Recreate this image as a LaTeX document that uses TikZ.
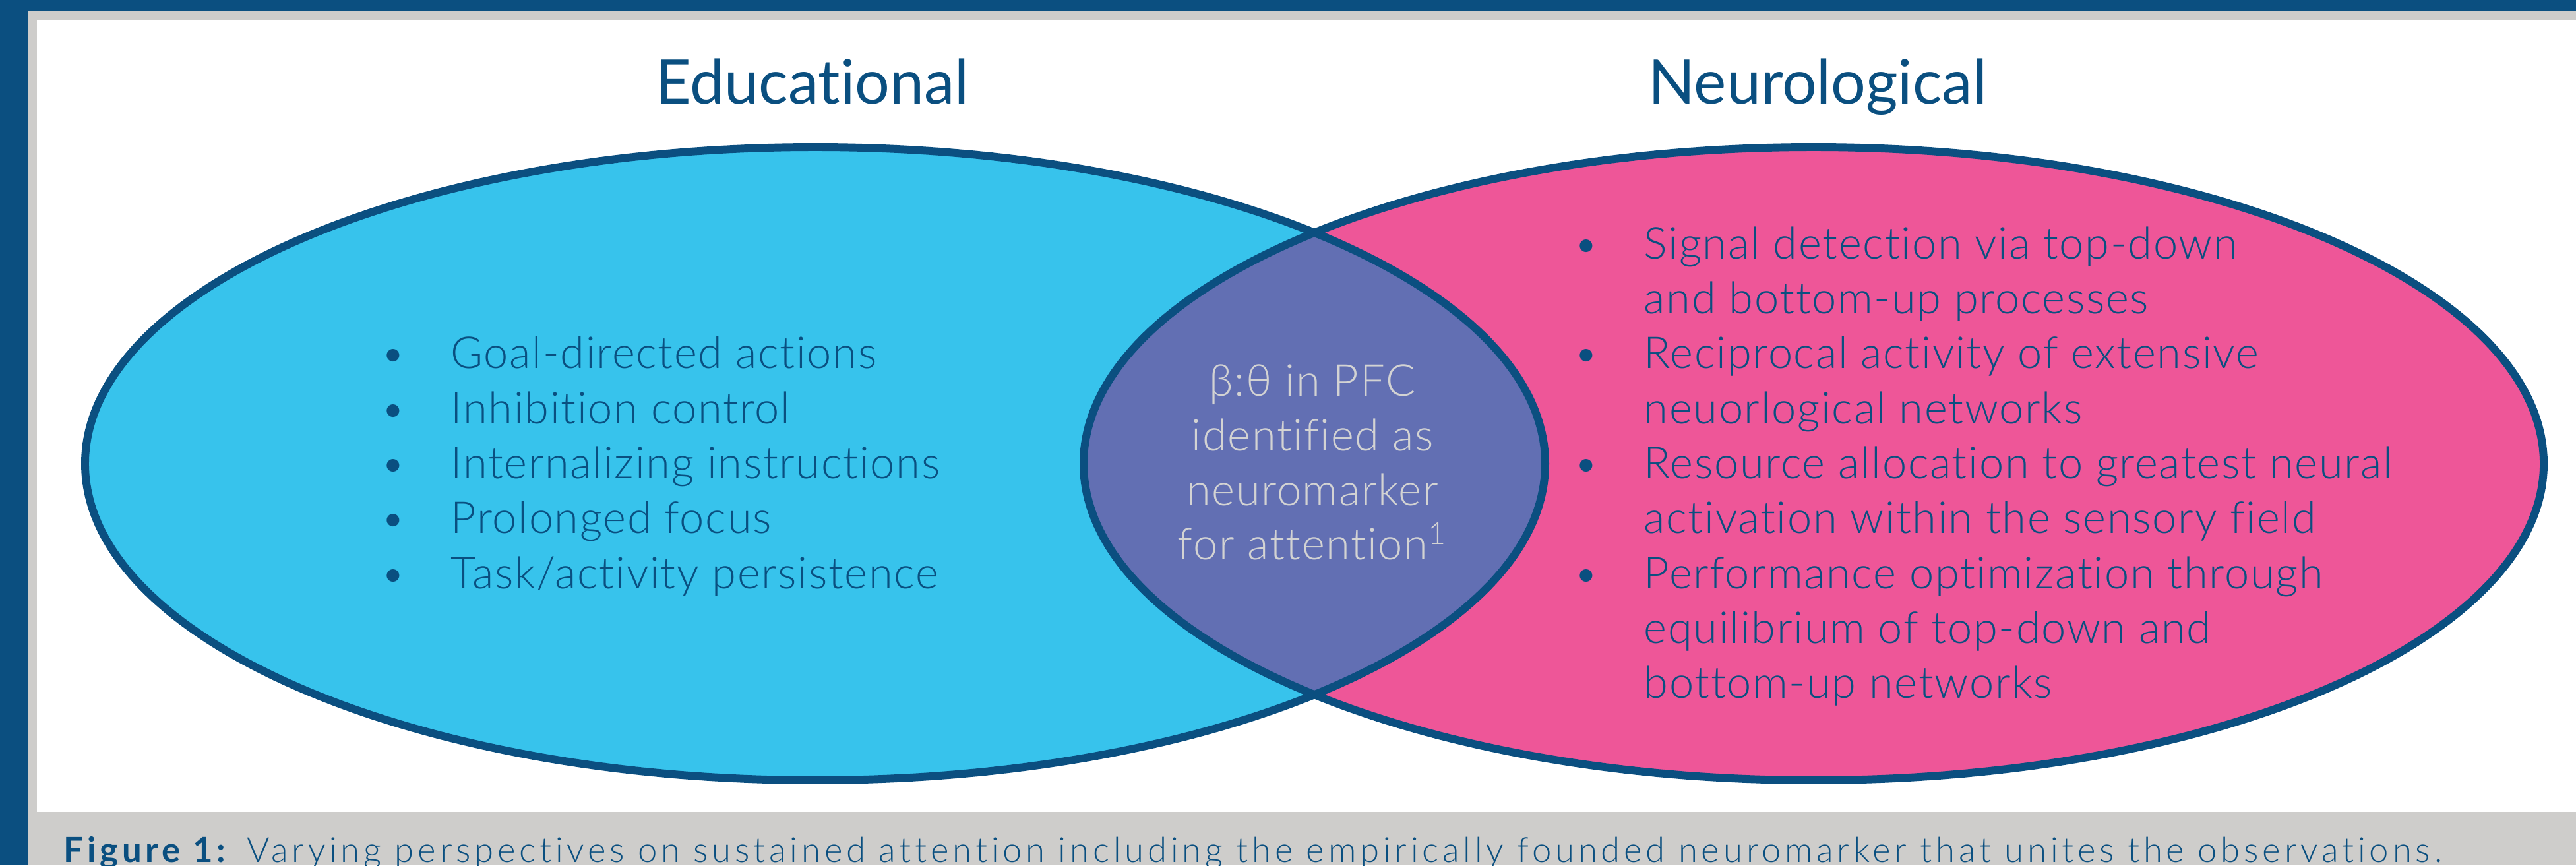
\documentclass[tikz,border=0pt]{standalone}
\usepackage{fontspec}
\setmainfont{Lato Light}[Ligatures=NoCommon,BoldFont=Lato Bold]
\newfontfamily\headfont{Lato}[Ligatures=NoCommon]
\newfontfamily\bodyfont{Lato Light}[Ligatures=NoCommon,LetterSpace=2.5]
\newfontfamily\capfont{Lato Light}[Ligatures=NoCommon,BoldFont=Lato Bold,LetterSpace=11]
\usetikzlibrary{positioning}

\definecolor{frameblue}{HTML}{0B4F80}
\definecolor{framegray}{HTML}{CECDCB}
\definecolor{educyan}{HTML}{37C3EC}
\definecolor{neuropink}{HTML}{EE5698}
\definecolor{overlap}{HTML}{626FB3}
\definecolor{textblue}{HTML}{0A4F80}
\definecolor{markergray}{HTML}{D3D3D3}

\begin{document}
\begin{tikzpicture}[line node/.style={anchor=base west,inner sep=0pt,font=\bodyfont\fontsize{19}{23}\selectfont,text=textblue},
    dot node/.style={anchor=base,inner sep=0pt,font=\fontsize{18.5}{22}\selectfont,text=textblue},
    head node/.style={anchor=base,inner sep=0pt,font=\headfont\fontsize{26.5}{30}\selectfont,text=textblue},
    mid node/.style={anchor=base,inner sep=0pt,font=\bodyfont\fontsize{19}{23}\selectfont,text=markergray},
    ring/.style={draw=frameblue,line width=3.4pt}]
    \useasboundingbox (0,0) rectangle (39.06,13.12);
    % frame
    \fill[frameblue] (0,0) rectangle (39.06,13.12);
    \fill[framegray] (0.43,0) rectangle (39.06,12.95);
    \fill[white] (0.56,0.81) rectangle (39.06,12.82);

    % the two sets
    \coordinate (edu) at (12.36,6.09);
    \coordinate (neuro) at (27.50,6.09);
    \fill[educyan] (edu) ellipse [x radius=11.07,y radius=4.80];
    \fill[neuropink] (neuro) ellipse [x radius=11.07,y radius=4.80];
    \begin{scope}
      \clip (edu) ellipse [x radius=11.07,y radius=4.80];
      \fill[overlap] (neuro) ellipse [x radius=11.07,y radius=4.80];
    \end{scope}
    \draw[ring] (edu) ellipse [x radius=11.07,y radius=4.80];
    \draw[ring] (neuro) ellipse [x radius=11.07,y radius=4.80];

    % headings
    \node[head node] (eduhead) at (12.32,11.55) {Educational};
    \node[head node] (neurohead) at (27.56,11.55) {Neurological};

    % educational list
    \node[dot node] (e1b) at (5.96,7.54) {•};
    \node[line node] (e1) at (6.83,7.54) {Goal-directed actions};
    \node[dot node] (e2b) at (5.96,6.70) {•};
    \node[line node] (e2) at (6.83,6.70) {Inhibition control};
    \node[dot node] (e3b) at (5.96,5.87) {•};
    \node[line node] (e3) at (6.83,5.87) {Internalizing instructions};
    \node[dot node] (e4b) at (5.96,5.04) {•};
    \node[line node] (e4) at (6.83,5.04) {Prolonged focus};
    \node[dot node] (e5b) at (5.96,4.20) {•};
    \node[line node] (e5) at (6.83,4.20) {Task/activity persistence};

    % overlap
    \node[mid node] (m1) at (19.90,7.12) {β:θ in PFC};
    \node[mid node] (m2) at (19.90,6.29) {identified as};
    \node[mid node] (m3) at (19.90,5.46) {neuromarker};
    \node[mid node] (m4) at (19.90,4.64) {for attention\textsuperscript{1}};

    % neurological list
    \node[dot node] (n1b) at (24.05,9.20) {•};
    \node[line node] (n1) at (24.92,9.20) {Signal detection via top-down};
    \node[line node] (n2) at (24.92,8.37) {and bottom-up processes};
    \node[dot node] (n3b) at (24.05,7.54) {•};
    \node[line node] (n3) at (24.92,7.54) {Reciprocal activity of extensive};
    \node[line node] (n4) at (24.92,6.70) {neuorlogical networks};
    \node[dot node] (n5b) at (24.05,5.87) {•};
    \node[line node] (n5) at (24.92,5.87) {Resource allocation to greatest neural};
    \node[line node] (n6) at (24.92,5.04) {activation within the sensory field};
    \node[dot node] (n7b) at (24.05,4.20) {•};
    \node[line node] (n7) at (24.92,4.20) {Performance optimization through};
    \node[line node] (n8) at (24.92,3.37) {equilibrium of top-down and};
    \node[line node] (n9) at (24.92,2.54) {bottom-up networks};

    % caption
    \node[anchor=base west,inner sep=0pt,font=\capfont\fontsize{15}{18}\selectfont,text=textblue] (caption) at (0.96,0.05)
      {\textbf{Figure 1:} Varying perspectives on sustained attention including the empirically founded neuromarker that unites the observations.};
\end{tikzpicture}
\end{document}
